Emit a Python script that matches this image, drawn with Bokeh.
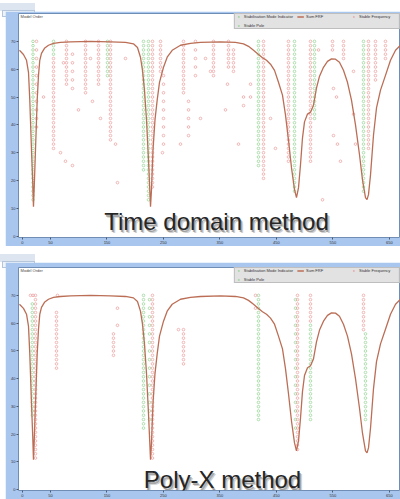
from bokeh.plotting import figure
from bokeh.models import Range1d, FixedTicker, Label, Legend, LegendItem, Div, Spacer
from bokeh.layouts import column, row
from bokeh.embed import file_html
from bokeh.resources import INLINE

# ---------------- data ----------------
# Sum FRF curve (same measurement in both panels)
frf_freq = [-5.0, 2.1, 7.5, 11.0, 13.3, 16.3, 18.6, 19.8, 21.3, 23.4, 26.4, 28.7, 31.0, 34.0, 39.3,
            46.4, 55.3, 67.7, 85.4, 120.8, 156.2, 182.8, 196.9, 204.0, 209.3, 212.9, 216.4, 220.0,
            223.5, 225.8, 227.1, 228.8, 231.5, 235.0, 238.9, 243.0, 250.1, 256.6, 265.5, 280.2,
            297.9, 315.6, 351.0, 377.6, 391.8, 400.6, 409.5, 418.3, 425.4, 432.5, 439.6, 446.7,
            453.7, 460.8, 466.1, 471.4, 476.8, 482.1, 485.6, 489.2, 492.7, 496.2, 499.8, 505.1,
            510.4, 515.7, 521.0, 526.4, 533.4, 540.5, 547.6, 554.7, 561.7, 568.8, 575.9, 583.0,
            590.1, 597.2, 602.5, 607.8, 610.5, 613.1, 616.7, 622.0, 627.3, 634.4, 643.2, 652.1,
            661.0, 669.8, 675.0]
frf_amp = [66.8, 65.3, 63.2, 58.9, 48.9, 31.1, 18.6, 10.7, 18.6, 31.1, 48.9, 57.8, 63.2, 65.7, 67.5,
           68.6, 69.3, 69.6, 69.8, 70.0, 69.8, 69.6, 69.1, 67.8, 64.3, 59.6, 52.5, 41.8, 27.5, 16.8,
           10.7, 16.8, 31.1, 41.8, 48.9, 55.3, 60.7, 64.3, 66.8, 68.6, 69.3, 69.6, 69.8, 69.6, 69.1,
           68.2, 66.8, 65.3, 64.1, 63.2, 61.8, 59.6, 55.3, 50.7, 43.6, 34.6, 24.6, 16.8, 13.9, 17.5,
           25.7, 35.3, 41.1, 43.9, 44.6, 47.1, 53.2, 57.5, 60.7, 62.8, 63.7, 63.6, 62.5, 59.6, 55.3,
           48.9, 40.0, 29.3, 20.3, 13.9, 13.2, 15.0, 22.1, 36.4, 46.1, 52.5, 57.8, 63.2, 66.8, 68.6,
           69.0]

x_ticks = [0, 50, 150, 250, 350, 450, 550, 650]
y_ticks = [0, 10, 20, 30, 40, 50, 60, 70]

# Time domain method: pole columns (frequency, highest order, lowest order, kind, order step)
td_col_freq = [19.0, 25.2, 55.3, 55.3, 78.3, 88.9, 112.0, 135.0, 150.9, 156.2, 214.7, 223.5, 230.6,
               244.8, 250.1, 285.5, 294.4, 306.7, 338.6, 365.2, 374.0, 418.3, 427.2, 471.4, 482.1,
               510.4, 517.5, 549.4, 568.9, 604.3, 613.1, 625.5, 643.2]
td_col_top = [40, 40, 40, 36, 40, 37, 40, 40, 40, 40, 40, 40, 40, 40, 32, 40, 26, 40, 40, 40, 38, 40,
              40, 40, 40, 40, 40, 40, 40, 40, 40, 40, 40]
td_col_bottom = [3, 19, 37, 15, 30, 29, 28, 30, 32, 17, 10, 3, 6, 33, 15, 28, 18, 31, 32, 34, 33, 11,
                 8, 12, 5, 12, 22, 38, 36, 5, 15, 31, 36]
td_col_kind = ["g", "r", "g", "r", "r", "r", "r", "r", "g", "r", "g", "g", "r", "r", "r", "r", "r",
               "r", "r", "r", "r", "g", "r", "r", "g", "r", "g", "r", "r", "g", "r", "r", "r"]
td_col_step = [1, 2, 1, 1, 1, 2, 1, 1, 1, 1, 1, 1, 1, 1, 2, 1, 2, 2, 1, 1, 1, 1, 1, 1, 1, 1, 1, 1, 1,
               1, 1, 1, 1]
# Time domain method: isolated (unstable) poles
td_pt_freq = [37.6, 67.7, 76.5, 88.9, 73.0, 124.3, 138.5, 165.1, 168.6, 280.2, 248.3, 333.3, 363.4,
              359.9, 382.9, 391.8, 391.8, 404.2, 404.2, 524.6, 551.1, 556.5, 551.1, 558.2, 531.7,
              586.6, 586.6, 182.8, 120.8, 99.5, 315.6, 324.5, 439.6, 448.4, 563.5, 590.1]
td_pt_order = [27, 14, 12, 11, 35, 26, 22, 16, 7, 16, 14, 33, 30, 24, 16, 27, 25, 30, 27, 38, 29, 27,
               18, 16, 3, 33, 23, 36, 36, 24, 22, 36, 22, 15, 12, 16]

# Poly-X method: pole columns
px_col_freq = [17.8, 23.4, 60.6, 161.5, 214.7, 225.3, 230.6, 285.5, 418.3, 487.4, 483.9, 510.4,
               510.4, 604.3, 607.8]
px_col_top = [38, 40, 36, 31, 40, 39, 40, 32, 40, 40, 39, 40, 33, 40, 31]
px_col_bottom = [12, 2, 23, 26, 9, 11, 2, 24, 11, 4, 8, 34, 11, 32, 11]
px_col_kind = ["g", "r", "r", "r", "g", "g", "r", "r", "g", "r", "g", "r", "g", "r", "g"]
px_col_step = [1, 1, 1, 1, 1, 2, 1, 1, 1, 1, 2, 1, 1, 1, 1]
# Poly-X method: isolated poles
px_pt_freq = [14.5, 19.0, 62.3, 168.6, 168.6, 276.6, 413.0, 413.0]
px_pt_order = [40, 40, 40, 37, 33, 32, 40, 37]

# ---------------- style ----------------
BLUE = "#a9c6ee"
GREEN = "#8fd28f"
RED = "#eb9a9a"
CURVE = "#bb6e55"


def expand(freqs, tops, bottoms, kinds, steps, pt_f, pt_o):
    gx, gy, rx, ry = [], [], [], []
    for f, t, b, k, s in zip(freqs, tops, bottoms, kinds, steps):
        for n in range(t, b - 1, -s):
            if k == "g":
                gx.append(f)
                gy.append(n)
            else:
                rx.append(f)
                ry.append(n)
    rx += list(pt_f)
    ry += list(pt_o)
    return gx, gy, rx, ry


def panel(height, border_top, y_rng, o_rng, cols, caption, cap_x, cap_y):
    p = figure(width=395, height=height, output_backend="svg", toolbar_location=None,
               x_range=Range1d(-6.7, 669.8), y_range=Range1d(*y_rng),
               min_border_left=13, min_border_right=0, min_border_top=border_top,
               min_border_bottom=8, border_fill_color=BLUE, background_fill_color="white",
               outline_line_color="#6f8db5", margin=0)
    p.extra_y_ranges = {"order": Range1d(*o_rng)}
    p.xgrid.visible = False
    p.ygrid.visible = False
    for ax in (p.xaxis[0], p.yaxis[0]):
        ax.major_label_text_font_size = "4px"
        ax.major_label_text_color = "#333333"
        ax.major_tick_line_color = "#4a5a70"
        ax.major_tick_out = 2
        ax.major_tick_in = 0
        ax.minor_tick_line_color = None
        ax.axis_line_color = None
        ax.major_label_standoff = 1
    p.xaxis.ticker = FixedTicker(ticks=x_ticks)
    p.yaxis.ticker = FixedTicker(ticks=y_ticks)

    gx, gy, rx, ry = expand(*cols)
    g_r = p.scatter(gx, gy, y_range_name="order", marker="circle", size=2.6,
                    fill_color=None, line_color=GREEN, line_width=0.7)
    r_r = p.scatter(rx, ry, y_range_name="order", marker="circle", size=2.6,
                    fill_color=None, line_color=RED, line_width=0.7)
    l_r = p.line(frf_freq, frf_amp, line_color=CURVE, line_width=1.3)

    legend = Legend(items=[LegendItem(label="Stabilisation Mode Indicator", renderers=[g_r]),
                           LegendItem(label="Sum FRF", renderers=[l_r]),
                           LegendItem(label="Stable Frequency", renderers=[r_r]),
                           LegendItem(label="Stable Pole", renderers=[g_r])],
                    location="top_right", orientation="horizontal", ncols=3, margin=0,
                    padding=0, spacing=4, label_text_font_size="4px", label_height=3,
                    label_width=40, glyph_height=3, glyph_width=7, label_standoff=2,
                    background_fill_color="#e2e2e2", background_fill_alpha=1.0,
                    border_line_color="#9a9a9a", label_text_color="#333333",
                    label_text_line_height=0.9)
    p.add_layout(legend)

    p.add_layout(Label(x=-3, y=y_rng[1] - 1.2, text="Model Order", text_font_size="4px",
                       text_color="#444444", text_baseline="middle"))

    for dx, dy, col, a in ((2.5, -3.0, "#9a9a9a", 0.45), (1.2, -1.5, "#777777", 0.6)):
        p.add_layout(Label(x=cap_x, y=cap_y, x_offset=dx, y_offset=dy, text=caption,
                           text_align="center", text_baseline="alphabetic",
                           text_font="Liberation Sans", text_font_size="24px",
                           text_color=col, text_alpha=a))
    p.add_layout(Label(x=cap_x, y=cap_y, text=caption, text_align="center",
                       text_baseline="alphabetic", text_font="Liberation Sans",
                       text_font_size="24px", text_color="#262626"))
    return p


def tab(h, top_gap):
    return Div(text=f'<div style="margin-top:{top_gap}px;height:{h - top_gap}px;'
                    'background:#dce5f0;">'
                    '<span style="display:inline-block;font-family:Liberation Sans;font-size:4px;'
                    'line-height:5px;color:#333;background:#eef3f9;border:1px solid #b5c6da;'
                    'padding:0 3px;margin:1px 0 0 2px;">Stability graph</span></div>',
               width=400, height=h, margin=0)


td = (td_col_freq, td_col_top, td_col_bottom, td_col_kind, td_col_step, td_pt_freq, td_pt_order)
px = (px_col_freq, px_col_top, px_col_bottom, px_col_kind, px_col_step, px_pt_freq, px_pt_order)

p1 = panel(235, 2, (-0.38, 79.99), (-5.81, 46.51), td, "Time domain method", 343.9, 5.3)
p2 = panel(237, 5, (-0.36, 80.05), (-5.58, 46.51), px, "Poly-X method", 354.6, 3.6)

layout = column(
    tab(11, 3),
    row(Spacer(width=5, height=235, margin=0), p1, margin=0),
    Spacer(width=400, height=8, margin=0),
    tab(8, 0),
    row(Spacer(width=5, height=237, margin=0), p2, margin=0),
    margin=0,
)

open("out.html", "w").write(file_html(layout, INLINE))
